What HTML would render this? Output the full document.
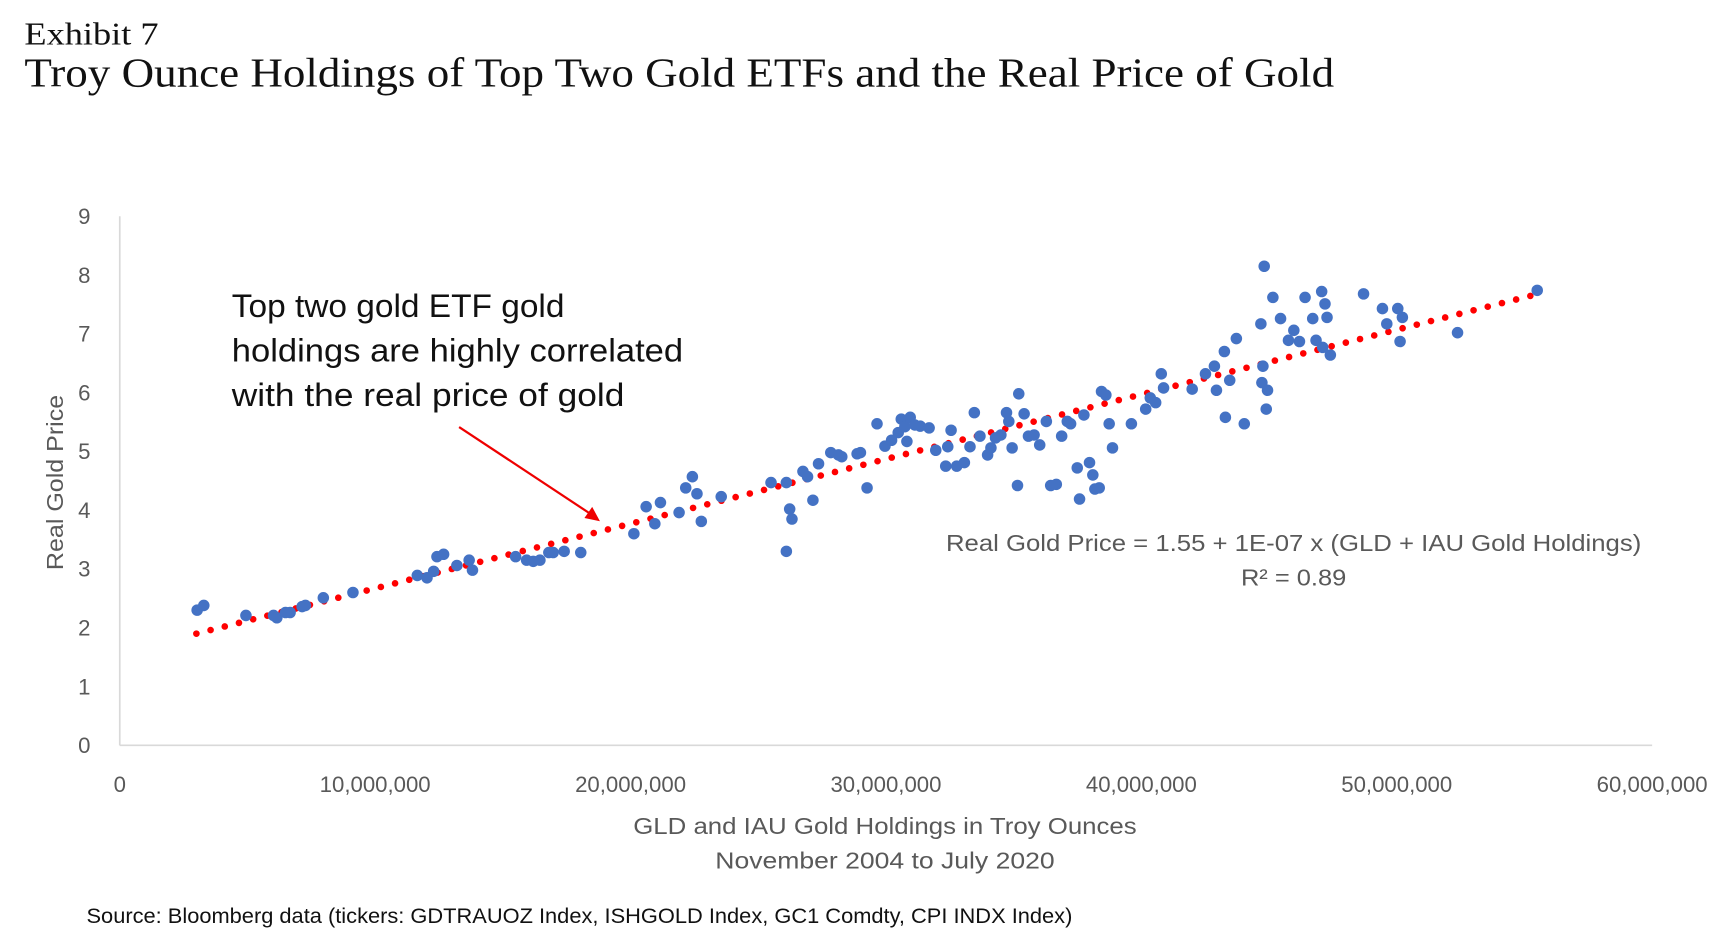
<!DOCTYPE html>
<html><head><meta charset="utf-8"><style>
html,body{margin:0;padding:0;background:#fff;}
svg{display:block;}
</style></head><body>
<svg id="chart" width="1730" height="935" viewBox="0 0 1560 843" preserveAspectRatio="none" xmlns="http://www.w3.org/2000/svg">
<text x="22" y="40" font-family="Liberation Serif, serif" font-size="29" fill="#111" textLength="121" lengthAdjust="spacingAndGlyphs">Exhibit 7</text>
<text x="22" y="78" font-family="Liberation Serif, serif" font-size="37" fill="#111" textLength="1181" lengthAdjust="spacingAndGlyphs">Troy Ounce Holdings of Top Two Gold ETFs and the Real Price of Gold</text>
<g id="axes"></g>
<g id="trend"></g>
<g id="points"></g>
<text x="209" y="286" font-family="Liberation Sans, sans-serif" font-size="29" fill="#111" textLength="300" lengthAdjust="spacingAndGlyphs">Top two gold ETF gold</text>
<text x="209" y="326" font-family="Liberation Sans, sans-serif" font-size="29" fill="#111" textLength="407" lengthAdjust="spacingAndGlyphs">holdings are highly correlated</text>
<text x="209" y="366" font-family="Liberation Sans, sans-serif" font-size="29" fill="#111" textLength="354" lengthAdjust="spacingAndGlyphs">with the real price of gold</text>
<line x1="414" y1="385" x2="535" y2="465" stroke="#e00" stroke-width="2"/>
<polygon points="541,470 527,467 534,457" fill="#e00"/>
<text x="853" y="497" font-family="Liberation Sans, sans-serif" font-size="21" fill="#595959" textLength="627" lengthAdjust="spacingAndGlyphs">Real Gold Price = 1.55  + 1E-07 x (GLD + IAU Gold Holdings)</text>
<text x="1119" y="528" font-family="Liberation Sans, sans-serif" font-size="21" fill="#595959" textLength="95" lengthAdjust="spacingAndGlyphs">R² = 0.89</text>
<text x="798" y="752" text-anchor="middle" font-family="Liberation Sans, sans-serif" font-size="21" fill="#595959" textLength="454" lengthAdjust="spacingAndGlyphs">GLD and IAU Gold Holdings in Troy Ounces</text>
<text x="798" y="783" text-anchor="middle" font-family="Liberation Sans, sans-serif" font-size="21" fill="#595959" textLength="306" lengthAdjust="spacingAndGlyphs">November 2004 to July 2020</text>
<text transform="translate(57,435) rotate(-90)" text-anchor="middle" font-family="Liberation Sans, sans-serif" font-size="21" fill="#595959" textLength="158" lengthAdjust="spacingAndGlyphs">Real Gold Price</text>
<text x="78" y="832" font-family="Liberation Sans, sans-serif" font-size="19" fill="#111" textLength="889" lengthAdjust="spacingAndGlyphs">Source: Bloomberg data (tickers: GDTRAUOZ Index, ISHGOLD Index, GC1 Comdty, CPI INDX Index)</text>
</svg>
<script>
const xTicks = [0, 10000000, 20000000, 30000000, 40000000, 50000000, 60000000];
const xTickLabels = ["0","10,000,000","20,000,000","30,000,000","40,000,000","50,000,000","60,000,000"];
const yTicks = [0,1,2,3,4,5,6,7,8,9];
const holdingsM = [3.03,3.29,4.94,6.02,6.15,6.49,6.67,7.14,7.27,7.97,9.13,11.65,12.03,12.29,12.42,12.68,13.2,13.68,13.81,15.5,15.93,16.19,16.45,16.8,16.97,17.4,18.05,20.13,20.61,20.95,21.17,21.9,22.16,22.42,22.6,22.77,23.55,25.5,26.1,26.1,26.23,26.32,26.75,26.93,27.14,27.36,27.84,28.14,28.27,28.87,29.0,29.26,29.65,29.96,30.22,30.48,30.6,30.74,30.82,30.95,31.13,31.34,31.69,31.95,32.34,32.42,32.55,32.77,33.07,33.29,33.46,33.68,33.98,34.11,34.29,34.5,34.72,34.81,34.94,35.15,35.2,35.41,35.58,35.8,36.02,36.28,36.45,36.67,36.88,37.1,37.23,37.49,37.58,37.75,37.97,38.1,38.18,38.35,38.44,38.61,38.74,38.87,39.61,40.17,40.35,40.56,40.78,40.87,41.99,42.51,42.86,42.94,43.25,43.29,43.46,43.72,44.03,44.68,44.72,44.76,44.81,44.89,44.94,45.15,45.45,45.76,45.97,46.19,46.41,46.71,46.84,47.06,47.19,47.27,47.1,47.4,48.7,49.44,49.61,50.04,50.22,50.13,52.38,55.5];
const realPrice = [2.30,2.38,2.21,2.21,2.17,2.26,2.26,2.36,2.38,2.51,2.60,2.89,2.85,2.96,3.21,3.25,3.06,3.15,2.98,3.21,3.15,3.13,3.15,3.28,3.28,3.30,3.28,3.60,4.06,3.77,4.13,3.96,4.38,4.57,4.28,3.81,4.23,4.47,3.30,4.47,4.02,3.85,4.66,4.57,4.17,4.79,4.98,4.94,4.91,4.96,4.98,4.38,5.47,5.09,5.19,5.32,5.55,5.42,5.17,5.58,5.45,5.43,5.40,5.02,4.75,5.08,5.36,4.75,4.81,5.08,5.66,5.26,4.94,5.06,5.23,5.28,5.66,5.51,5.06,4.42,5.98,5.64,5.26,5.28,5.11,5.51,4.42,4.44,5.26,5.51,5.47,4.72,4.19,5.62,4.81,4.60,4.36,4.38,6.02,5.96,5.47,5.06,5.47,5.72,5.91,5.83,6.32,6.08,6.06,6.32,6.45,6.04,6.70,5.58,6.21,6.92,5.47,7.17,6.17,6.45,8.15,5.72,6.04,7.62,7.26,6.89,7.06,6.87,7.62,7.26,6.89,7.72,7.51,7.28,6.77,6.64,7.68,7.43,7.17,7.43,7.28,6.87,7.02,7.74];
const trendParams = [1.57, 0.000000110];
const trendRange = [3000000, 55500000];

const NS = "http://www.w3.org/2000/svg";
const X0 = 108, XPER = 23.03 / 1000000, Y0 = 672, YPER = 53;
function xs(v){ return X0 + v * XPER; }
function ys(v){ return Y0 - v * YPER; }
function mk(tag, attrs, parent){ const e = document.createElementNS(NS, tag); for (const k in attrs) e.setAttribute(k, attrs[k]); parent.appendChild(e); return e; }

const axes = document.getElementById('axes');
const ya = mk('line', {x1: X0, y1: ys(9), x2: X0, y2: Y0, stroke: '#d9d9d9', 'stroke-width': 1.5}, axes);


const xa = mk('line', {x1: X0, y1: Y0, x2: xs(60000000), y2: Y0, stroke: '#d9d9d9', 'stroke-width': 1.5}, axes);


yTicks.forEach(t => {
  const e = mk('text', {x: 76, y: ys(t) + 7, 'text-anchor': 'middle', 'font-family': 'Liberation Sans, sans-serif', 'font-size': 20, fill: '#595959'}, axes);
  e.textContent = String(t);
  
  
});
xTicks.forEach((t, i) => {
  const e = mk('text', {x: xs(t), y: 714, 'text-anchor': 'middle', 'font-family': 'Liberation Sans, sans-serif', 'font-size': 20, fill: '#595959'}, axes);
  e.textContent = xTickLabels[i];
  
  
});

const trend = document.getElementById('trend');
const tl = mk('line', {x1: xs(trendRange[0]), y1: ys(trendParams[0] + trendParams[1] * trendRange[0]), x2: xs(trendRange[1]), y2: ys(trendParams[0] + trendParams[1] * trendRange[1]), stroke: '#ff0000', 'stroke-width': 6, 'stroke-linecap': 'round', 'stroke-dasharray': '0 13.2'}, trend);



const pts = document.getElementById('points');
holdingsM.forEach((h, i) => {
  const c = mk('circle', {cx: xs(h * 1000000), cy: ys(realPrice[i]), r: 5.2, fill: '#4472c4'}, pts);
  
  
});
</script>
</body></html>
